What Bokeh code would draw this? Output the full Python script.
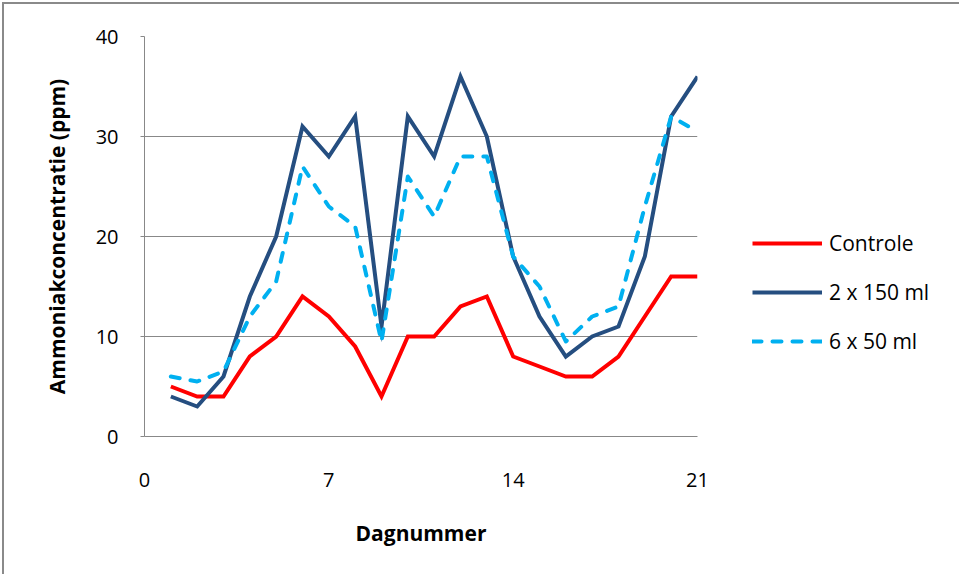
from bokeh.plotting import figure
from bokeh.models import FixedTicker, Legend, LegendItem, Range1d
from bokeh.embed import file_html
from bokeh.resources import INLINE

# Daily ammonia concentration (ppm) per treatment
days = list(range(1, 22))
controle = [5, 4, 4, 8, 10, 14, 12, 9, 4, 10, 10, 13, 14, 8, 7, 6, 6, 8, 12, 16, 16]
dose_2x150 = [4, 3, 6, 14, 20, 31, 28, 32, 11, 32, 28, 36, 30, 18, 12, 8, 10, 11, 18, 32, 36]
dose_6x50 = [6, 5.5, 6.5, 12, 15.5, 27, 23, 21, 9.5, 26, 22, 28, 28, 18, 15, 9.5, 12, 13, 23, 32, 30.5]

series_names = ["Controle", "2 x 150 ml", "6 x 50 ml"]
x_ticks = [0, 7, 14, 21]
y_ticks = [0, 10, 20, 30, 40]

FONT = "Open Sans"
GRID = "#888888"

p = figure(
    frame_width=553, frame_height=400,
    output_backend="svg", toolbar_location=None,
    x_range=Range1d(0, 21), y_range=Range1d(0, 40),
    min_border_left=140, min_border_right=262,
    min_border_top=32, min_border_bottom=138,
)
p.styles = {"margin-left": "2px", "margin-top": "2px",
            "border-left": "2px solid #8a8a8a", "border-top": "2px solid #8a8a8a"}
p.outline_line_color = None
p.background_fill_color = "white"
p.border_fill_color = "white"

p.xgrid.visible = False
p.ygrid.grid_line_color = GRID
p.ygrid.grid_line_width = 1
p.ygrid.ticker = FixedTicker(ticks=y_ticks)

p.xaxis.ticker = FixedTicker(ticks=x_ticks)
p.yaxis.ticker = FixedTicker(ticks=y_ticks)
for ax in (p.xaxis, p.yaxis):
    ax.axis_line_color = GRID
    ax.major_tick_line_color = GRID
    ax.minor_tick_line_color = None
    ax.major_tick_in = 0
    ax.major_label_text_font = FONT
    ax.major_label_text_font_size = "20px"
    ax.major_label_text_color = "#000000"
    ax.axis_label_text_font = FONT
    ax.axis_label_text_font_size = "21px"
    ax.axis_label_text_font_style = "bold"
    ax.axis_label_text_color = "#000000"

p.xaxis.major_tick_out = 0
p.xaxis.major_label_standoff = 36
p.xaxis.axis_label = "Dagnummer"
p.xaxis.axis_label_standoff = 29

p.yaxis.major_tick_out = 4
p.yaxis.major_label_standoff = 22
p.yaxis.axis_label = "Ammoniakconcentratie (ppm)"
p.yaxis.axis_label_standoff = 22

r1 = p.line(days, controle, line_color="#FF0000", line_width=4, line_join="miter")
r2 = p.line(days, dose_2x150, line_color="#254E80", line_width=4, line_join="miter")
r3 = p.line(days, dose_6x50, line_color="#00B0F0", line_width=4,
            line_dash="9 11", line_cap="round", line_join="round")

legend = Legend(
    items=[LegendItem(label=n, renderers=[r]) for n, r in zip(series_names, [r1, r2, r3])],
    location=(55, 81),
    glyph_width=70, glyph_height=20, label_height=20,
    spacing=21, padding=0, margin=0, label_standoff=7,
    label_text_font=FONT, label_text_font_size="21px", label_text_color="#000000",
    border_line_alpha=0, background_fill_alpha=0,
)
p.add_layout(legend, "right")

open("out.html", "w").write(file_html(p, INLINE))
